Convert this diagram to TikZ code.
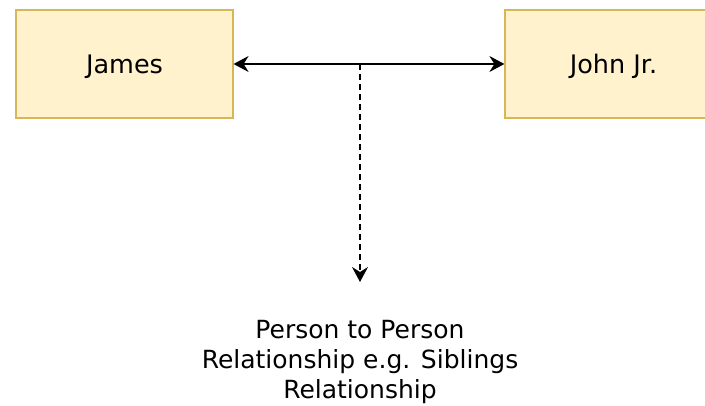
\documentclass[tikz,border=0pt]{standalone}
\usepackage{fontspec}
\setmainfont{DejaVu Sans}
\usetikzlibrary{arrows.meta}
\definecolor{boxfill}{HTML}{FFF2CC}
\definecolor{boxline}{HTML}{D6B656}
\begin{document}
\begin{tikzpicture}[x=1pt, y=1pt, >={Stealth[length=15pt,width=16pt,inset=5pt]},
    person/.style ={rectangle, draw=boxline, fill=boxfill, line width=1.2pt,
      minimum width=217pt, minimum height=108pt, text height=18.5pt, text depth=0pt,
      font=\fontsize{25.5}{30}\selectfont},
    link/.style ={line width=1.3pt, <->},
    relation/.style ={line width=1.3pt, dash pattern=on 6pt off 4pt, ->}]
   \useasboundingbox (0,0) rectangle (705,-406);
   \clip (0,0) rectangle (705,-406);
   \node[person] (James)  at (124.5,-64)  {James};
   \node[person] (John)   at (613.5,-64)  {John Jr.};
   \node[align=center, font=\fontsize{25}{30}\selectfont] (R) at (360,-362)
     {Person to Person\\Relationship e.g. Siblings\\Relationship};

   \coordinate (M) at (360,-64);
   \coordinate (T) at (360,-282);

   \draw[link] (James) to (John);
   \draw[relation] (M) to (T);

 \end{tikzpicture}
\end{document}
